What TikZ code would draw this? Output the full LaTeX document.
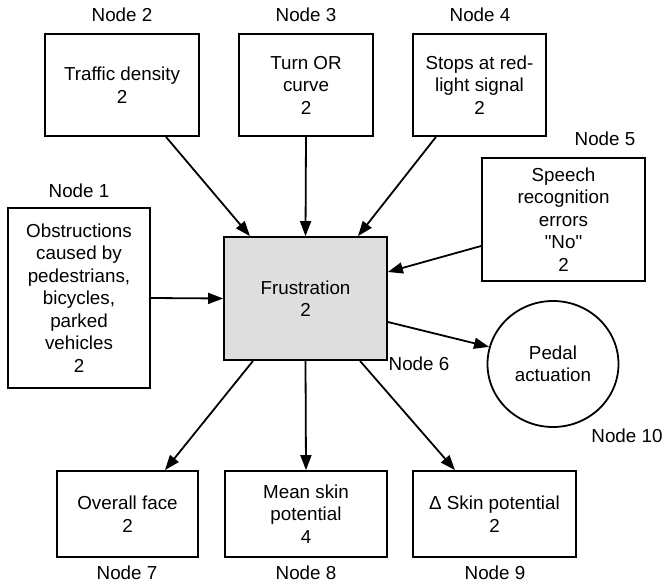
\documentclass[tikz,border=0pt]{standalone}
\usepackage{fontspec}
\setmainfont{Liberation Sans}
\newfontfamily\qfont{Liberation Sans}
\usetikzlibrary{arrows.meta,shapes.geometric}
\definecolor{boxgray}{RGB}{222,222,222}
\begin{document}
\begin{tikzpicture}[x=1pt,y=-1pt,
  every node/.style={font=\fontsize{18.8}{22.5}\selectfont, inner sep=0pt, align=center},
  box/.style={draw, line width=1.8pt, rectangle},
  arr/.style={-{Triangle[length=15pt,width=11pt]}, line width=1.8pt}]
\useasboundingbox (0,0) rectangle (665,586);
% boxes
\node[box, minimum width=154pt, minimum height=102pt] (n2) at (122,85) {Traffic density\\2};
\node[box, minimum width=134pt, minimum height=102pt] (n3) at (306,85) {Turn OR\\curve\\2};
\node[box, minimum width=133pt, minimum height=102pt] (n4) at (479.5,85) {Stops at red-\\light signal\\2};
\node[box, minimum width=163pt, minimum height=123pt] (n5) at (563.5,219.5) {Speech\\recognition\\errors\\{\qfont "No"}\\2};
\node[box, minimum width=142pt, minimum height=180pt] (n1) at (79,298) {Obstructions\\caused by\\pedestrians,\\bicycles,\\parked\\vehicles\\2};
\node[box, fill=boxgray, minimum width=163pt, minimum height=123pt] (fr) at (305.5,298.5) {Frustration\\2};
\node[draw, line width=1.8pt, ellipse, minimum width=131pt, minimum height=126pt] (c) at (553,364) {Pedal\\actuation};
\node[box, minimum width=141pt, minimum height=86pt] (n7) at (127.5,514) {Overall face\\2};
\node[box, minimum width=162pt, minimum height=86pt] (n8) at (306,514) {Mean skin\\potential\\4};
\node[box, minimum width=163pt, minimum height=86pt] (n9) at (494.5,514) {Δ Skin potential\\2};
% labels
\node (l2) at (122,15) {Node 2};
\node (l3) at (306,15) {Node 3};
\node (l4) at (480,15) {Node 4};
\node (l5) at (605,139) {Node 5};
\node (l1) at (79,191) {Node 1};
\node (l6) at (419,364) {Node 6};
\node (l10) at (627,436) {Node 10};
\node (l7) at (127,573) {Node 7};
\node (l8) at (306,573) {Node 8};
\node (l9) at (495,573) {Node 9};
% connectors
\draw[arr] ([xshift=44pt]n2.south) -- ([xshift=-55.5pt]fr.north);
\draw[arr] (n3.south) -- (fr.north);
\draw[arr] ([xshift=-43.5pt]n4.south) -- ([xshift=52.5pt]fr.north);
\draw[arr] ([yshift=-26.5pt]n5.west) -- ([yshift=26.5pt]fr.east);
\draw[arr] (n1.east) -- (fr.west);
\draw[arr] ([yshift=-23.5pt]fr.east) -- (c.165);
\draw[arr] ([xshift=-52.5pt]fr.south) -- ([xshift=37.5pt]n7.north);
\draw[arr] (fr.south) -- (n8.north);
\draw[arr] ([xshift=54.5pt]fr.south) -- ([xshift=-39.5pt]n9.north);
\end{tikzpicture}
\end{document}
